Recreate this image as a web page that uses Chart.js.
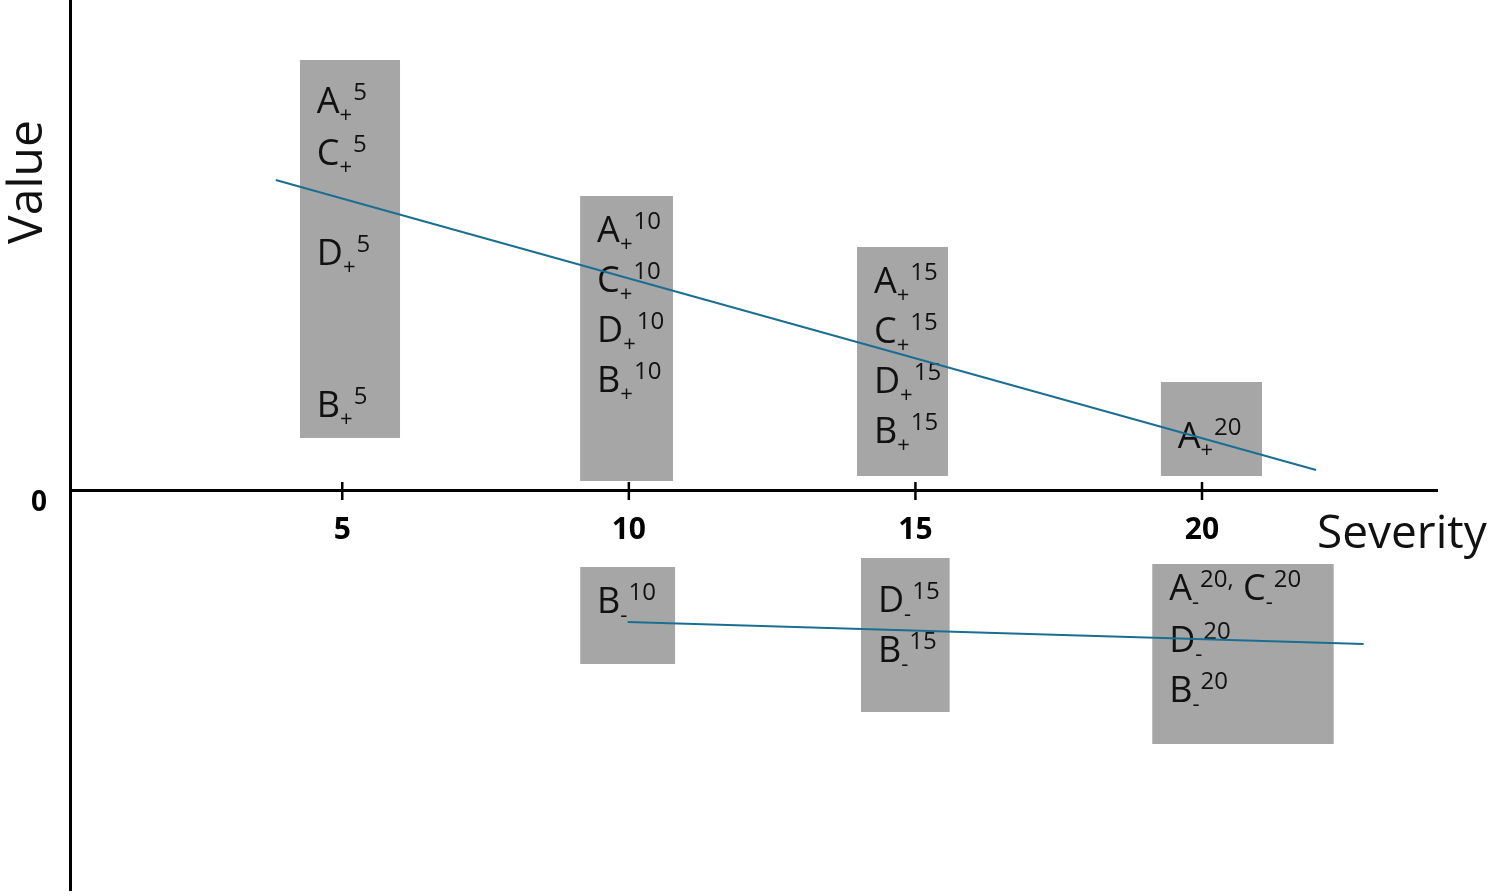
<!DOCTYPE html>
<html>
<head>
<meta charset="utf-8">
<script src="https://cdn.jsdelivr.net/npm/chart.js@4.4.1/dist/chart.umd.min.js"></script>
<style>
  html, body { margin: 0; padding: 0; background: #fff; }
  #wrap { width: 1500px; height: 896px; }
</style>
</head>
<body>
<div id="wrap"><canvas id="chart"></canvas></div>
<script>
// axis ticks
const severityTicks = [5, 10, 15, 20];
const valueTicks = [0];

// grey boxes: severity span (from/to) and value span (low/high)
const boxFrom = [4.26, 9.15, 13.98, 19.28, 9.15, 14.05, 19.13];
const boxTo = [6.01, 10.77, 15.57, 21.05, 10.81, 15.60, 22.30];
const boxLow = [1.06, 0.20, 0.30, 0.30, -3.46, -4.42, -5.06];
const boxHigh = [8.62, 5.90, 4.88, 2.18, -1.52, -1.34, -1.46];

// labels inside each box and the value at which each one sits
const boxLabels = [
    ["A+5", "C+5", "D+5", "B+5"],
    ["A+10", "C+10", "D+10", "B+10"],
    ["A+15", "C+15", "D+15", "B+15"],
    ["A+20"],
    ["B-10"],
    ["D-15", "B-15"],
    ["A-20, C-20", "D-20", "B-20"],
];
const labelValues = [
    [7.56, 6.52, 4.52, 1.48],
    [4.98, 3.98, 2.98, 1.98],
    [3.96, 2.96, 1.96, 0.96],
    [0.86],
    [-2.44],
    [-2.42, -3.42],
    [-2.18, -3.22, -4.22],
];

// trend lines
const upperTrendX = [3.84, 21.99];
const upperTrendY = [6.22, 0.42];
const lowerTrendX = [9.98, 22.82];
const lowerTrendY = [-2.62, -3.06];

const FONT = '"Open Sans", sans-serif';
const BOX_COLOR = "#a6a6a6";
const LINE_COLOR = "#1b6e93";
const TEXT_COLOR = "#111";

Chart.defaults.font.family = FONT;

const toPoints = (xs, ys) => xs.map((x, i) => ({ x: x, y: ys[i] }));

const datasets = [
    {
        label: "upper trend",
        data: toPoints(upperTrendX, upperTrendY),
        borderColor: LINE_COLOR,
        borderWidth: 2,
        pointRadius: 0,
        fill: false,
    },
    {
        label: "lower trend",
        data: toPoints(lowerTrendX, lowerTrendY),
        borderColor: LINE_COLOR,
        borderWidth: 2,
        pointRadius: 0,
        fill: false,
    },
];

boxFrom.forEach((from, i) => {
    datasets.push({
        label: "box " + i,
        data: [
            { x: from, y: boxHigh[i] },
            { x: boxTo[i], y: boxHigh[i] },
        ],
        borderColor: "rgba(0,0,0,0)",
        borderWidth: 1,
        pointRadius: 0,
        backgroundColor: BOX_COLOR,
        fill: { value: boxLow[i] },
    });
});

// draws e.g. "A+5" as A with subscript + and superscript 5
function drawLabel(ctx, text, x, y) {
    const re = /([A-Z])([+-])(\d+)(,?)(\s*)/g;
    let m;
    let cx = x;
    ctx.fillStyle = TEXT_COLOR;
    ctx.textAlign = "left";
    ctx.textBaseline = "alphabetic";
    while ((m = re.exec(text))) {
        ctx.font = "36px " + FONT;
        ctx.fillText(m[1], cx, y);
        cx += ctx.measureText(m[1]).width;

        ctx.font = "22px " + FONT;
        ctx.fillText(m[2], cx, y + 9);
        cx += ctx.measureText(m[2]).width + 1;

        ctx.font = "24px " + FONT;
        const sup = m[3] + m[4];
        ctx.fillText(sup, cx, y - 13);
        cx += ctx.measureText(sup).width;

        if (m[5]) {
            ctx.font = "36px " + FONT;
            cx += ctx.measureText(m[5]).width;
        }
    }
}

const sketchPlugin = {
    id: "sketch",
    afterDatasetDraw(chart, args) {
        // labels go above the boxes but under the trend lines
        if (args.index !== 2) return;
        const { ctx, scales } = chart;
        ctx.save();
        boxLabels.forEach((labels, i) => {
            const left = scales.x.getPixelForValue(boxFrom[i]) + 17;
            labels.forEach((t, j) => {
                drawLabel(ctx, t, left, scales.y.getPixelForValue(labelValues[i][j]));
            });
        });
        ctx.restore();
    },
    afterDraw(chart) {
        const { ctx, scales, chartArea } = chart;
        const y0 = scales.y.getPixelForValue(0);
        ctx.save();

        // tick marks crossing the x axis
        ctx.strokeStyle = "#000";
        ctx.lineWidth = 2.5;
        scales.x.ticks.forEach((t) => {
            const px = scales.x.getPixelForValue(t.value);
            ctx.beginPath();
            ctx.moveTo(px, y0 - 9);
            ctx.lineTo(px, y0 + 9);
            ctx.stroke();
        });

        // axis titles
        ctx.fillStyle = TEXT_COLOR;
        ctx.textBaseline = "alphabetic";
        ctx.font = "46px " + FONT;
        ctx.textAlign = "left";
        ctx.fillText("Severity", chartArea.right - 120, y0 + 57);

        ctx.translate(chartArea.left - 28, chartArea.top + 182);
        ctx.rotate(-Math.PI / 2);
        ctx.font = "48px " + FONT;
        ctx.textAlign = "center";
        ctx.fillText("Value", 0, 0);
        ctx.restore();
    },
};

const noPadding = (s) => {
    s.paddingTop = 0;
    s.paddingBottom = 0;
    s.paddingLeft = 0;
    s.paddingRight = 0;
};

new Chart(document.getElementById("chart"), {
    type: "line",
    data: { datasets: datasets },
    options: {
        responsive: true,
        maintainAspectRatio: false,
        animation: false,
        layout: { padding: { left: 0, right: 63, top: 0, bottom: 6 } },
        plugins: {
            legend: { display: false },
            tooltip: { enabled: false },
        },
        scales: {
            x: {
                type: "linear",
                min: 0.25,
                max: 24.1,
                position: { y: 0 },
                afterBuildTicks: (s) => {
                    s.ticks = severityTicks.map((v) => ({ value: v }));
                },
                afterFit: (s) => {
                    s.height = 0;
                    noPadding(s);
                },
                grid: { display: false, drawTicks: false },
                border: { display: true, color: "#000", width: 3 },
                ticks: {
                    color: "#000",
                    font: { size: 30, weight: "bold" },
                    padding: 21,
                    autoSkip: false,
                    maxRotation: 0,
                },
            },
            y: {
                type: "linear",
                min: -7.98,
                max: 9.82,
                afterBuildTicks: (s) => {
                    s.ticks = valueTicks.map((v) => ({ value: v }));
                },
                afterFit: (s) => {
                    s.width = 70;
                    noPadding(s);
                },
                grid: { display: false, drawTicks: false },
                border: { display: true, color: "#000", width: 3 },
                ticks: {
                    color: "#000",
                    font: { size: 28, weight: "bold" },
                    padding: 23,
                    labelOffset: 12,
                },
            },
        },
    },
    plugins: [sketchPlugin],
});
</script>
</body>
</html>
